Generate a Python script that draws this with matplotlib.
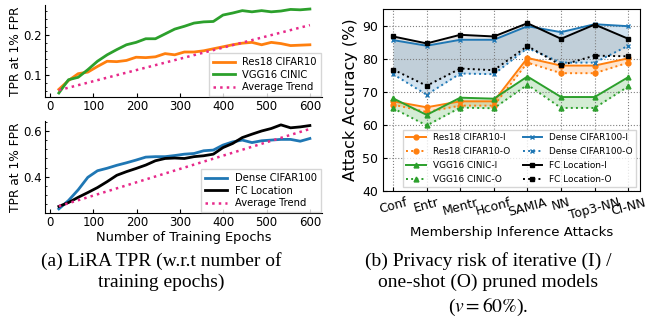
import numpy as np
import matplotlib
matplotlib.use("Agg")
import matplotlib.pyplot as plt
from matplotlib.ticker import AutoMinorLocator

# ---- data ----
epochs = np.linspace(20, 600, 27)
res18_cifar10 = [0.064, 0.086, 0.103, 0.107, 0.121, 0.134, 0.133, 0.136, 0.144, 0.143,
                 0.145, 0.153, 0.150, 0.157, 0.157, 0.160, 0.165, 0.170, 0.175, 0.179,
                 0.181, 0.175, 0.181, 0.178, 0.173, 0.174, 0.175]
vgg16_cinic = [0.055, 0.088, 0.094, 0.113, 0.134, 0.150, 0.163, 0.175, 0.181, 0.190,
               0.190, 0.202, 0.214, 0.221, 0.229, 0.232, 0.233, 0.249, 0.254, 0.260,
               0.257, 0.260, 0.257, 0.259, 0.263, 0.262, 0.264]
trend_top = [0.062, 0.224]

dense_cifar100 = [0.258, 0.295, 0.342, 0.397, 0.426, 0.437, 0.450, 0.461, 0.473, 0.486,
                  0.488, 0.488, 0.493, 0.499, 0.502, 0.514, 0.517, 0.539, 0.553, 0.561,
                  0.550, 0.558, 0.561, 0.564, 0.564, 0.556, 0.568]
fc_location = [0.269, 0.286, 0.309, 0.330, 0.352, 0.378, 0.406, 0.422, 0.436, 0.451,
               0.470, 0.480, 0.482, 0.480, 0.488, 0.492, 0.499, 0.528, 0.546, 0.572,
               0.587, 0.601, 0.612, 0.628, 0.615, 0.619, 0.625]
trend_bot = [0.270, 0.610]
trend_x = [20, 600]

attacks = ["Conf", "Entr", "Mentr", "Hconf", "SAMIA", "NN", "Top3-NN", "Cl-NN"]
res18_I = [67.1, 65.3, 67.1, 67.1, 80.2, 77.9, 77.9, 80.1]
res18_O = [66.1, 63.9, 65.8, 65.8, 78.8, 75.6, 75.6, 78.8]
vgg16_I = [68.0, 63.0, 68.2, 67.9, 74.6, 68.4, 68.4, 74.4]
vgg16_O = [65.0, 59.8, 65.2, 65.0, 72.1, 65.1, 65.1, 71.6]
dense_I = [85.6, 83.9, 85.7, 85.7, 89.8, 88.0, 90.4, 89.8]
dense_O = [75.3, 69.1, 75.5, 75.3, 83.2, 78.8, 78.8, 83.9]
fc_I = [86.7, 84.6, 87.2, 86.7, 90.7, 86.0, 90.3, 86.0]
fc_O = [76.7, 71.8, 77.0, 76.5, 83.8, 78.0, 80.9, 80.7]

plt.rcParams["mathtext.fontset"] = "stix"

W, H = 655, 322
fig = plt.figure(figsize=(W / 100, H / 100), dpi=100)

def box(l, t, r, b):
    return [l / W, 1 - b / H, (r - l) / W, (b - t) / H]

pink = "#e7298a"

def style_left(ax):
    ax.spines["top"].set_visible(False)
    ax.spines["right"].set_visible(False)
    ax.tick_params(direction="in", labelsize=8.5, length=3, pad=2.5)
    ax.tick_params(which="minor", direction="in", length=1.5)
    ax.yaxis.set_minor_locator(AutoMinorLocator(5))
    ax.set_xlim(-12, 628)
    ax.set_xticks([0, 100, 200, 300, 400, 500, 600])

# top-left
ax1 = fig.add_axes(box(45, 5, 322, 97))
ax1.plot(epochs, res18_cifar10, color="#ff7f0e", lw=2, label="Res18 CIFAR10")
ax1.plot(epochs, vgg16_cinic, color="#2ca02c", lw=2, label="VGG16 CINIC")
ax1.plot(trend_x, trend_top, color=pink, lw=1.8, ls=":", label="Average Trend")
style_left(ax1)
ax1.set_ylim(0.045, 0.274)
ax1.set_yticks([0.1, 0.2])
ax1.set_ylabel("TPR at 1% FPR", fontsize=8.8, labelpad=1)
ax1.legend(loc="lower right", fontsize=7.2, handlelength=2.2, borderaxespad=0.1,
           labelspacing=0.25, fancybox=False)

# bottom-left
ax2 = fig.add_axes(box(45, 121, 322, 213))
ax2.plot(epochs, dense_cifar100, color="#1f77b4", lw=2, label="Dense CIFAR100")
ax2.plot(epochs, fc_location, color="black", lw=2, label="FC Location")
ax2.plot(trend_x, trend_bot, color=pink, lw=1.8, ls=":", label="Average Trend")
style_left(ax2)
ax2.set_ylim(0.24, 0.645)
ax2.set_yticks([0.4, 0.6])
ax2.set_ylabel("TPR at 1% FPR", fontsize=8.8, labelpad=1)
ax2.set_xlabel("Number of Training Epochs", fontsize=9.4, labelpad=1)
ax2.legend(loc="lower right", fontsize=7.2, handlelength=2.2, borderaxespad=0.1,
           labelspacing=0.25, fancybox=False)

# right
ax3 = fig.add_axes(box(383, 9, 640, 191))
xs = np.arange(len(attacks))
groups = [
    ("Res18 CIFAR10", res18_I, res18_O, "#ff7f0e", "o"),
    ("VGG16 CINIC", vgg16_I, vgg16_O, "#2ca02c", "^"),
    ("Dense CIFAR100", dense_I, dense_O, "#1f77b4", "x"),
    ("FC Location", fc_I, fc_O, "black", "s"),
]
handles = {}
for name, yi, yo, c, m in groups:
    ax3.fill_between(xs, yi, yo, color=c if c != "black" else "gray", alpha=0.2, lw=0)
    hi, = ax3.plot(xs, yi, color=c, marker=m, ms=3.5, lw=1.4, label=name + "-I")
    ho, = ax3.plot(xs, yo, color=c, marker=m, ms=3.5, lw=1.4, ls=":", label=name + "-O")
    handles[name] = (hi, ho)
order = [handles["Res18 CIFAR10"][0], handles["Res18 CIFAR10"][1],
         handles["VGG16 CINIC"][0], handles["VGG16 CINIC"][1],
         handles["Dense CIFAR100"][0], handles["Dense CIFAR100"][1],
         handles["FC Location"][0], handles["FC Location"][1]]
ax3.legend(handles=order, ncol=2, loc="lower right", fontsize=6.4, handlelength=2.2,
           columnspacing=1.4, labelspacing=0.55, borderaxespad=0.4, fancybox=False)
ax3.set_ylim(40, 95)
ax3.set_yticks([40, 50, 60, 70, 80, 90])
ax3.set_xlim(-0.3, 7.35)
ax3.set_xticks(xs)
ax3.set_xticklabels(attacks, rotation=15, fontsize=9)
ax3.tick_params(direction="in", labelsize=9, length=3)
ax3.grid(True, ls=":", color="gray", lw=0.8)
ax3.set_ylabel("Attack Accuracy (%)", fontsize=11.5, labelpad=3)
ax3.set_xlabel("Membership Inference Attacks", fontsize=9.5, labelpad=3)

# captions
cap = dict(fontsize=14, family="Liberation Serif", ha="center", va="top",
           linespacing=1.3)
fig.text(161 / W, 1 - 252 / H, "(a) LiRA TPR (w.r.t number of\ntraining epochs)", **cap)
fig.text(488 / W, 1 - 252 / H,
         "(b) Privacy risk of iterative (I) /\none-shot (O) pruned models\n($v = 60\\%$).",
         **cap)

fig.savefig("out.png", dpi=100)
